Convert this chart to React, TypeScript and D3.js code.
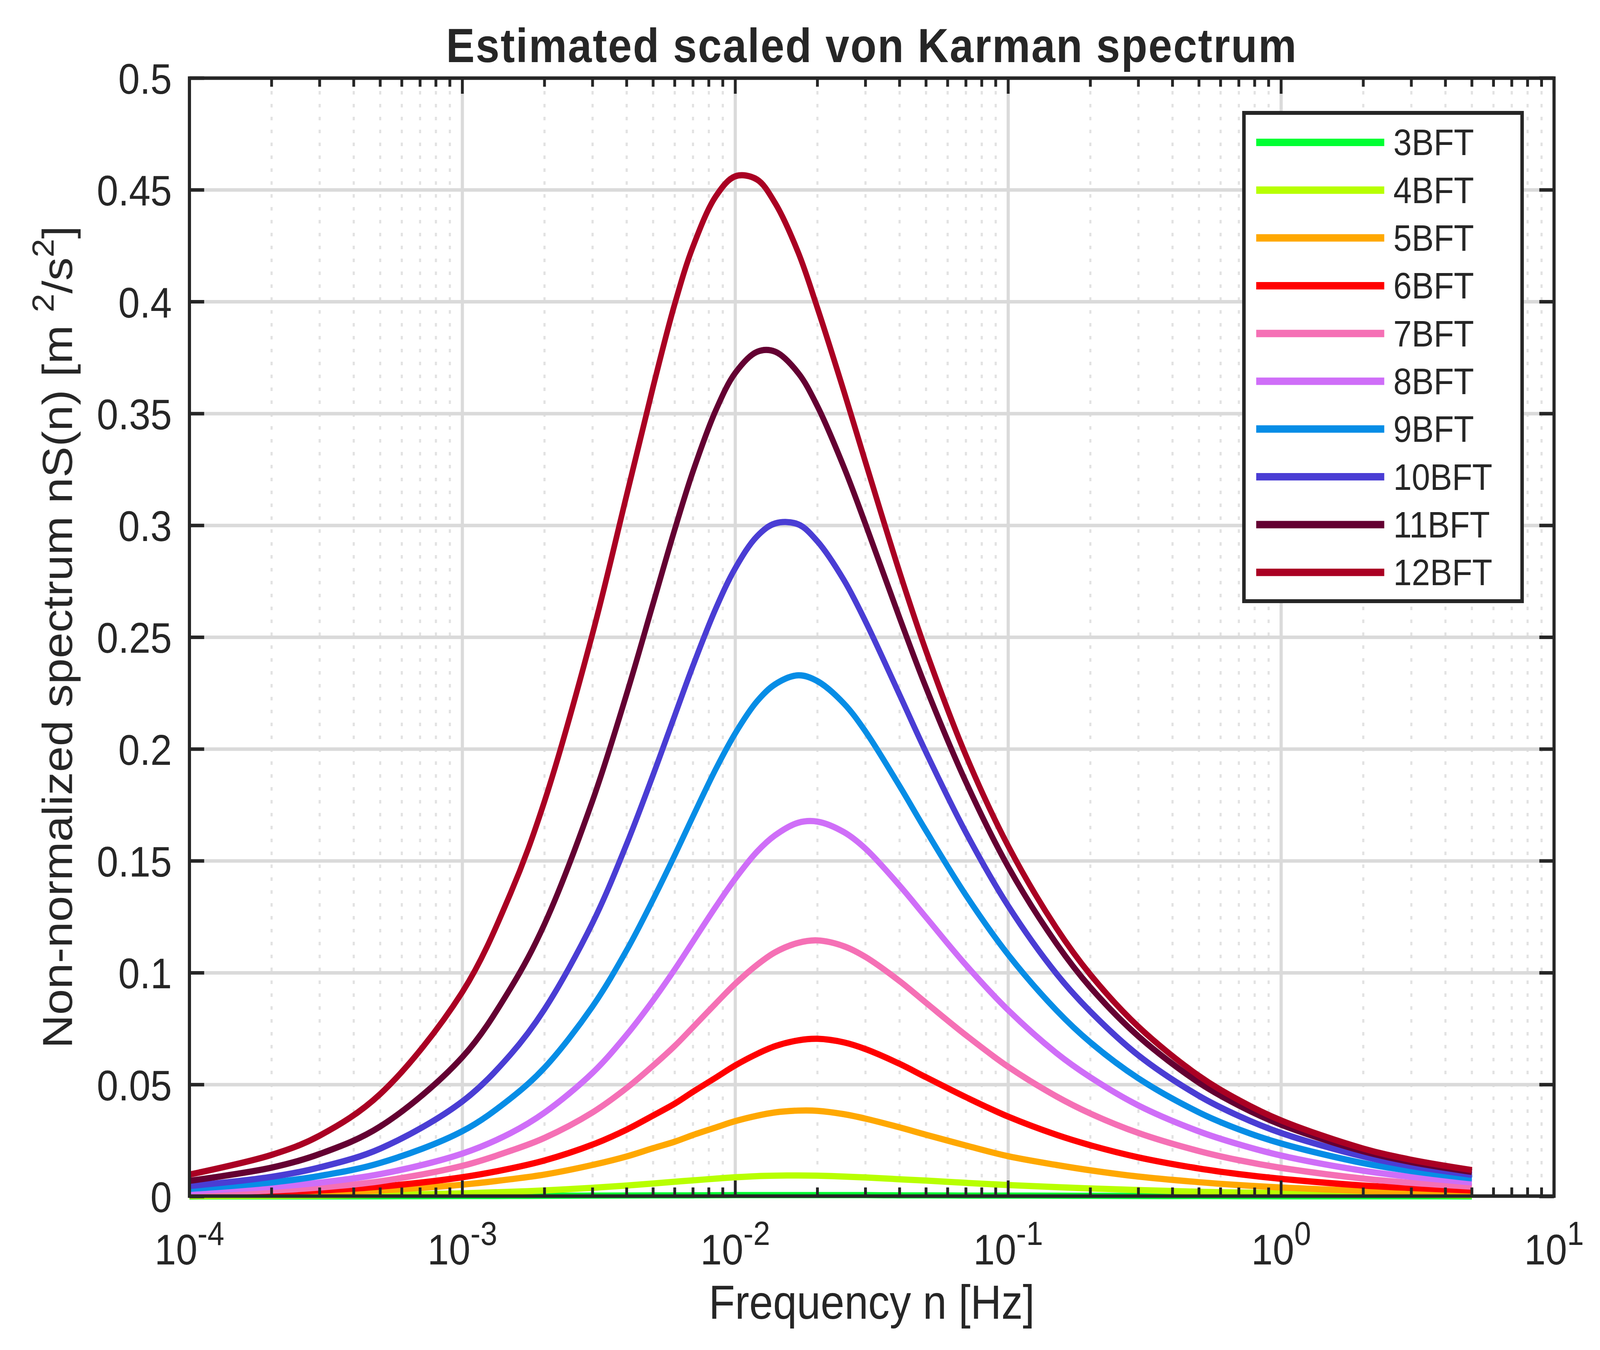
import * as d3 from "d3";

// frequency samples [Hz]
const freqHz = [
  1e-4, 2e-4, 3e-4, 5e-4, 1e-3, 1.5e-3, 2e-3, 3e-3, 4e-3, 5e-3, 6e-3, 7e-3, 8.5e-3, 1e-2,
  1.2e-2, 1.4e-2, 1.7e-2, 2e-2, 2.5e-2, 3e-2, 4e-2, 5e-2, 7e-2, 0.1, 0.15, 0.2, 0.3, 0.5,
  0.7, 1, 2, 3, 5,
];

// nS(n) [m^2/s^2], one array per Beaufort class
const bft3 = [
  0.00002, 0.00004, 0.00006, 0.0001, 0.0002, 0.00025, 0.0003, 0.0004, 0.00045, 0.0005, 0.0005,
  0.0005, 0.00055, 0.0006, 0.0006, 0.0006, 0.0006, 0.0006, 0.0006, 0.0006, 0.0005, 0.0005,
  0.0004, 0.0004, 0.00035, 0.0003, 0.0002, 0.0002, 0.00015, 0.0001, 0.0001, 0.00008, 0.00005,
];
const bft4 = [
  0.0002, 0.0003, 0.0004, 0.0007, 0.0014, 0.0021, 0.0027, 0.0039, 0.0049, 0.0058, 0.0066,
  0.0072, 0.008, 0.0086, 0.0091, 0.0093, 0.0094, 0.0093, 0.0089, 0.0085, 0.0077, 0.0071,
  0.0061, 0.0051, 0.0042, 0.0036, 0.0029, 0.0021, 0.0018, 0.0015, 0.001, 0.0008, 0.0005,
];
const bft5 = [
  0.0006, 0.0011, 0.0016, 0.0027, 0.0053, 0.0077, 0.0098, 0.0141, 0.0179, 0.0216, 0.0245,
  0.0275, 0.0309, 0.0337, 0.0361, 0.0376, 0.0384, 0.0383, 0.0368, 0.0348, 0.0309, 0.0276,
  0.0228, 0.018, 0.0141, 0.0117, 0.0089, 0.0064, 0.0051, 0.004, 0.0025, 0.0019, 0.0014,
];
const bft6 = [
  0.001, 0.0019, 0.0027, 0.0044, 0.0086, 0.0125, 0.0161, 0.0232, 0.0299, 0.0362, 0.0415,
  0.0468, 0.0532, 0.0586, 0.0637, 0.0672, 0.0698, 0.0705, 0.0689, 0.0659, 0.0593, 0.0533,
  0.0444, 0.0357, 0.0276, 0.0229, 0.0175, 0.0125, 0.01, 0.0079, 0.0049, 0.0038, 0.0027,
];
const bft7 = [
  0.0014, 0.0027, 0.004, 0.0068, 0.0137, 0.0204, 0.0262, 0.0376, 0.0485, 0.0585, 0.0673,
  0.0757, 0.0864, 0.0951, 0.1035, 0.1092, 0.1134, 0.1145, 0.1119, 0.1071, 0.0963, 0.0866,
  0.0721, 0.058, 0.0448, 0.0371, 0.0284, 0.0203, 0.0162, 0.0128, 0.008, 0.0061, 0.0044,
];
const bft8 = [
  0.0024, 0.0043, 0.0062, 0.01, 0.0192, 0.0283, 0.0375, 0.0553, 0.0723, 0.0877, 0.1015,
  0.114, 0.1297, 0.1421, 0.1541, 0.1615, 0.1671, 0.1676, 0.1629, 0.1555, 0.139, 0.1248,
  0.1035, 0.0833, 0.0642, 0.0533, 0.0407, 0.0291, 0.0233, 0.0183, 0.0115, 0.0088, 0.0063,
];
const bft9 = [
  0.0034, 0.0063, 0.0092, 0.015, 0.0292, 0.0438, 0.0576, 0.085, 0.1101, 0.1328, 0.1526,
  0.17, 0.1913, 0.2071, 0.2213, 0.229, 0.233, 0.2304, 0.2204, 0.2079, 0.1835, 0.1635,
  0.1347, 0.1081, 0.0833, 0.0689, 0.0528, 0.0376, 0.03, 0.0237, 0.0149, 0.0114, 0.0081,
];
const bft10 = [
  0.0047, 0.0088, 0.013, 0.0214, 0.0425, 0.0634, 0.0837, 0.1223, 0.1576, 0.1885, 0.215,
  0.2373, 0.2631, 0.2809, 0.2951, 0.3009, 0.3005, 0.2929, 0.2756, 0.2571, 0.2243, 0.1986,
  0.1627, 0.1299, 0.0997, 0.0827, 0.0631, 0.045, 0.036, 0.0284, 0.0179, 0.0136, 0.0097,
];
const bft11 = [
  0.007, 0.0129, 0.019, 0.0313, 0.0623, 0.093, 0.1218, 0.177, 0.2247, 0.2651, 0.2982,
  0.3242, 0.3517, 0.3682, 0.3776, 0.3777, 0.3682, 0.3533, 0.3261, 0.3006, 0.2587, 0.2275,
  0.1853, 0.1474, 0.1132, 0.0935, 0.0716, 0.0509, 0.0407, 0.0321, 0.0202, 0.0154, 0.011,
];
const bft12 = [
  0.0098, 0.0186, 0.0272, 0.0458, 0.0914, 0.1354, 0.1767, 0.2517, 0.3136, 0.362, 0.399,
  0.4247, 0.4473, 0.4561, 0.4547, 0.4441, 0.4221, 0.3972, 0.36, 0.3283, 0.2791, 0.2439,
  0.1972, 0.1567, 0.1201, 0.0992, 0.0759, 0.0539, 0.0431, 0.034, 0.0214, 0.0164, 0.0118,
];

const seriesNames = ["3BFT", "4BFT", "5BFT", "6BFT", "7BFT", "8BFT", "9BFT", "10BFT", "11BFT", "12BFT"];
const seriesValues = [bft3, bft4, bft5, bft6, bft7, bft8, bft9, bft10, bft11, bft12];
const seriesColors = [
  "#00ff33", "#b8ff00", "#ffa800", "#ff0000", "#f570b5",
  "#cf6ef8", "#068de6", "#4a3dd4", "#640032", "#aa0023",
];

const yTicks = [0, 0.05, 0.1, 0.15, 0.2, 0.25, 0.3, 0.35, 0.4, 0.45, 0.5];
const xTickExponents = [-4, -3, -2, -1, 0, 1];

// layout in the reference's own pixel frame; the svg stretches it onto the window
const W = 4561;
const H = 3456;
const left = 540;
const right = 4430;
const top = 200;
const bottom = 3062;
const axisColor = "#262626";
const font = "'Liberation Sans', Arial, Helvetica, sans-serif";

export default function App() {
  const x = d3.scaleLog().domain([1e-4, 10]).range([left, right]);
  const y = d3.scaleLinear().domain([0, 0.5]).range([bottom + 1, top]);

  const line = d3
    .line<[number, number]>()
    .x((d) => x(d[0]))
    .y((d) => y(d[1]))
    .curve(d3.curveCatmullRom.alpha(0.5));

  const majorX = xTickExponents.map((e) => Math.pow(10, e));
  const minorX: number[] = [];
  for (let e = -4; e < 1; e++) {
    for (let m = 2; m <= 9; m++) minorX.push(m * Math.pow(10, e));
  }

  const legendX = 3546;
  const legendY = 289;
  const rowH = 122.3;

  return (
    <svg
      viewBox={`0 0 ${W} ${H}`}
      preserveAspectRatio="none"
      style={{ position: "fixed", left: 0, top: 0, width: "100vw", height: "100vh" }}
      fontFamily={font}
    >
      <rect x={0} y={0} width={W} height={H} fill="#fff" />

      {/* minor grid (dotted, vertical only) */}
      {minorX.map((v) => (
        <line
          key={"mg" + v}
          x1={x(v)}
          x2={x(v)}
          y1={top}
          y2={bottom}
          stroke="#e2e2e2"
          strokeWidth={6}
          strokeDasharray="9 24"
        />
      ))}

      {/* major grid */}
      {majorX.slice(1, -1).map((v) => (
        <line key={"gx" + v} x1={x(v)} x2={x(v)} y1={top} y2={bottom} stroke="#dadada" strokeWidth={9} />
      ))}
      {yTicks.slice(1, -1).map((v) => (
        <line key={"gy" + v} x1={left} x2={right} y1={y(v)} y2={y(v)} stroke="#dadada" strokeWidth={9} />
      ))}

      {/* curves */}
      {seriesValues.map((vals, i) => (
        <path
          key={seriesNames[i]}
          d={line(freqHz.map((f, j) => [f, vals[j]] as [number, number])) || ""}
          fill="none"
          stroke={seriesColors[i]}
          strokeWidth={16}
          strokeLinejoin="round"
        />
      ))}

      {/* ticks */}
      {majorX.map((v) => (
        <g key={"tx" + v}>
          <line x1={x(v)} x2={x(v)} y1={bottom} y2={bottom - 40} stroke={axisColor} strokeWidth={8} />
          <line x1={x(v)} x2={x(v)} y1={top} y2={top + 40} stroke={axisColor} strokeWidth={8} />
        </g>
      ))}
      {minorX.map((v) => (
        <g key={"mx" + v}>
          <line x1={x(v)} x2={x(v)} y1={bottom} y2={bottom - 22} stroke={axisColor} strokeWidth={8} />
          <line x1={x(v)} x2={x(v)} y1={top} y2={top + 22} stroke={axisColor} strokeWidth={8} />
        </g>
      ))}
      {yTicks.map((v) => (
        <g key={"ty" + v}>
          <line x1={left} x2={left + 42} y1={y(v)} y2={y(v)} stroke={axisColor} strokeWidth={9} />
          <line x1={right} x2={right - 42} y1={y(v)} y2={y(v)} stroke={axisColor} strokeWidth={9} />
        </g>
      ))}

      {/* axes box */}
      <rect
        x={left}
        y={top}
        width={right - left}
        height={bottom - top}
        fill="none"
        stroke={axisColor}
        strokeWidth={9}
      />

      {/* y tick labels */}
      {yTicks.map((v) => (
        <text key={"yl" + v} x={490} y={y(v) + 40} textAnchor="end" fontSize={110} fill={axisColor}>
          {String(+v.toFixed(2))}
        </text>
      ))}

      {/* x tick labels */}
      {xTickExponents.map((e) => (
        <text key={"xl" + e} x={x(Math.pow(10, e))} y={3237} textAnchor="middle" fontSize={110} fill={axisColor}>
          <tspan>10</tspan>
          <tspan dy={-50} fontSize={86}>
            {String(e)}
          </tspan>
        </text>
      ))}

      {/* axis labels */}
      <text x={(left + right) / 2} y={3376} textAnchor="middle" fontSize={122} fill={axisColor}>
        Frequency n [Hz]
      </text>
      <text
        transform={`translate(205, ${(top + bottom) / 2}) rotate(-90)`}
        textAnchor="middle"
        fontSize={119}
        fill={axisColor}
      >
        <tspan>Non-normalized spectrum nS(n) [m </tspan>
        <tspan dy={-52} fontSize={86}>2</tspan>
        <tspan dy={52}>/s</tspan>
        <tspan dy={-52} fontSize={86}>2</tspan>
        <tspan dy={52}>]</tspan>
      </text>

      {/* title */}
      <text
        x={(left + right) / 2}
        y={159}
        textAnchor="middle"
        fontSize={122}
        fontWeight="bold"
        letterSpacing={3}
        fill={axisColor}
      >
        Estimated scaled von Karman spectrum
      </text>

      {/* legend */}
      <rect x={legendX} y={legendY} width={793} height={1250} fill="#fff" stroke={axisColor} strokeWidth={10} />
      {seriesNames.map((name, i) => {
        const ly = 364.5 + i * rowH;
        return (
          <g key={"lg" + name}>
            <line x1={3581} x2={3946} y1={ly} y2={ly} stroke={seriesColors[i]} strokeWidth={19} />
            <text x={3972} y={ly + 33} fontSize={94} fill={axisColor}>
              {name}
            </text>
          </g>
        );
      })}
    </svg>
  );
}
